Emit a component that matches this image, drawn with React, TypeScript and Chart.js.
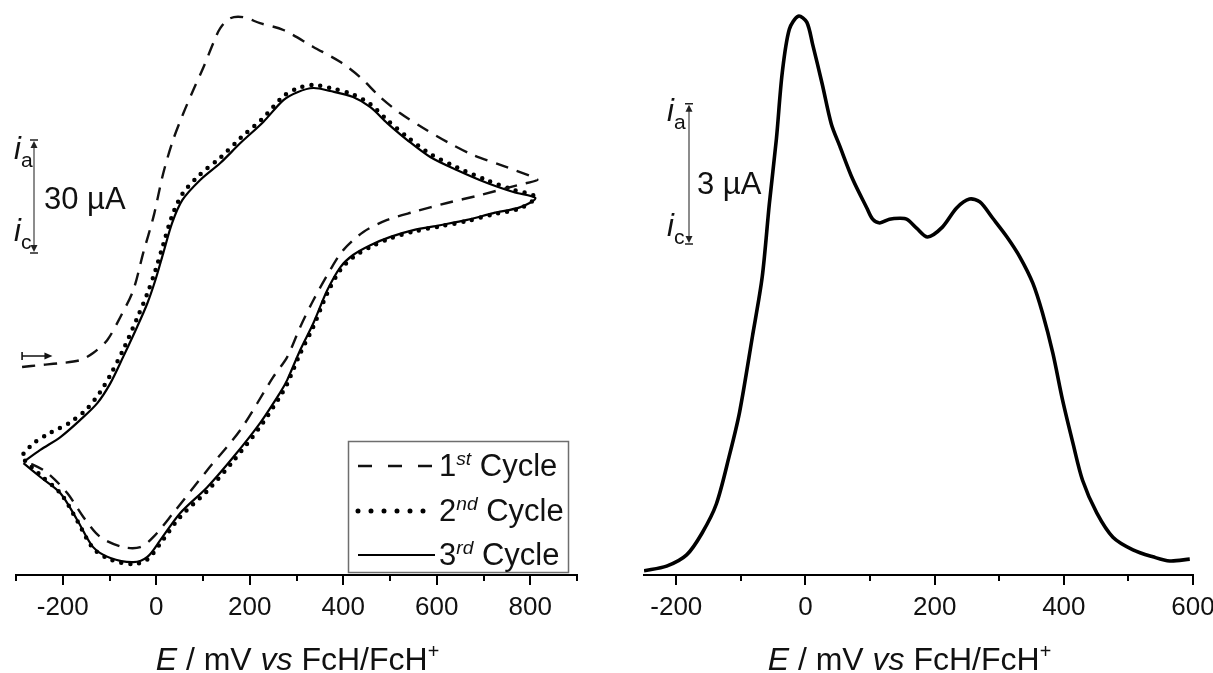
import React, { useEffect, useRef } from 'react';
import { Chart, registerables } from 'chart.js';
Chart.register(...registerables);

const FONT = '"Liberation Sans", Arial, Helvetica, sans-serif';

// ---------------- Left panel: cyclic voltammograms ----------------
// potential in mV vs FcH/FcH+, current in µA (arbitrary offset)
const cycle1E = [
  -287, -248, -205, -163, -135, -105, -77, -49, -28, -6, 15, 36, 58, 79, 101, 122, 137, 158, 186, 222, 272, 336,
  394, 436, 479, 522, 571, 622, 678, 736, 806, 815,
  772, 693, 622, 550, 494, 443, 400, 372, 336, 308, 280, 250, 180, 109, 36, -6, -34, -71, -120, -156, -190,
  -233, -263, -280,
];
const cycle1I = [
  -0.5, 0, 0.5, 1.3, 3.2, 6.6, 12.7, 19.9, 29.7, 39.3, 50.9, 59.7, 66.8, 72.9, 79.0, 85.4, 89.4, 92.0, 92.3, 90.7,
  88.9, 84.4, 80.4, 76.4, 71.1, 66.8, 62.9, 59.2, 55.7, 53.1, 49.9, 49.1,
  47.7, 45.1, 43.0, 40.6, 38.5, 35.3, 30.5, 25.2, 17.2, 10.1, 2.1, -3.2, -17.2, -27.9, -39.3, -45.6, -48.3, -48.3,
  -45.6, -40.3, -34.0, -28.6, -26.5, -26.0,
];
const cycle2E = [
  -284, -263, -227, -184, -148, -120, -98, -71, -41, -19, -2, 15, 34, 56, 94, 137, 180, 229, 272, 302, 336, 372,
  421, 458, 494, 537, 586, 644, 708, 764, 811,
  779, 721, 665, 607, 550, 501, 458, 421, 394, 366, 336, 308, 280, 265, 222, 165, 109, 51, 9, -19, -49, -98,
  -135, -169, -205, -248, -284,
];
const cycle2I = [
  -23.5, -20.8, -18.0, -15.2, -11.6, -7.2, -2.6, 4.0, 12.4, 19.0, 25.0, 32.0, 39.6, 45.4, 50.6, 55.0, 60.2, 65.6,
  71.3, 73.4, 74.3, 73.5, 71.8, 69.2, 65.0, 60.5, 56.0, 52.4, 49.0, 46.5, 44.6,
  41.6, 40.0, 38.2, 36.8, 35.4, 33.6, 31.3, 28.6, 25.3, 19.1, 10.2, 3.1, -5.0, -8.3, -16.4, -25.4, -33.4, -40.3,
  -47.3, -51.6, -52.8, -51.6, -48.6, -41.3, -34.0, -29.2, -25.0,
];
const cycle3E = [
  -284, -248, -205, -163, -126, -98, -71, -41, -19, -2, 15, 34, 56, 94, 137, 180, 229, 272, 302, 336, 372, 421,
  458, 494, 537, 586, 644, 708, 764, 811,
  779, 721, 665, 607, 550, 501, 458, 421, 394, 366, 336, 308, 280, 265, 222, 165, 109, 51, 9, -19, -49, -98,
  -135, -169, -205, -248, -284,
];
const cycle3I = [
  -25.7, -22.5, -19.1, -14.6, -10.1, -4.8, 2.1, 10.1, 16.4, 22.5, 29.7, 37.7, 43.8, 49.1, 53.6, 58.9, 64.5, 70.3,
  72.4, 73.5, 72.7, 71.1, 68.4, 64.2, 59.7, 55.2, 51.7, 48.3, 45.9, 44.3,
  41.9, 40.3, 38.5, 37.1, 35.8, 34.0, 31.8, 29.2, 26.0, 19.9, 11.1, 4.0, -4.0, -7.3, -15.4, -24.4, -32.4, -39.3,
  -46.4, -50.9, -52.3, -51.2, -48.3, -41.1, -34.0, -29.7, -26.0,
];
const cvXMin = -300;
const cvXMax = 900;
const cvYMin = -55.7;
const cvYMax = 94.2;
const cvLegendNumbers = ['1', '2', '3'];
const cvLegendSups = ['st', 'nd', 'rd'];
const cvLegendWord = 'Cycle';
const cvScaleBarE = -262;
const cvScaleBarI = [29.7, 59.7];
const cvScaleBarLabel = '30 µA';
const cvStartArrowE = [-287, -222];
const cvStartArrowI = 2.4;

// ---------------- Right panel: differential pulse voltammogram ----------------
const dpvE = [
  -250, -215, -184, -160, -138, -118, -102, -82, -67, -56, -45, -36, -25, -11, 2, 11, 26, 40, 53, 73, 95, 104, 115,
  130, 146, 157, 172, 189, 212, 234, 254, 270, 290, 312, 332, 352, 367, 383, 398, 414, 429, 451, 476, 507, 538,
  564, 595,
];
const dpvI = [
  0.09, 0.19, 0.43, 0.9, 1.52, 2.55, 3.49, 5.12, 6.38, 7.94, 9.34, 10.75, 11.69, 11.97, 11.84, 11.37, 10.51, 9.66,
  9.19, 8.48, 7.86, 7.62, 7.54, 7.62, 7.64, 7.62, 7.43, 7.24, 7.45, 7.86, 8.05, 7.99, 7.64, 7.24, 6.81, 6.25, 5.61,
  4.75, 3.75, 2.83, 2.03, 1.33, 0.81, 0.54, 0.39, 0.3, 0.34,
];
const dpvXMin = -250;
const dpvXMax = 600;
const dpvYMin = 0;
const dpvYMax = 12.1;
const dpvScaleBarE = -181;
const dpvScaleBarI = [7.09, 10.09];
const dpvScaleBarLabel = '3 µA';

const MAJOR_STEP = 200;
const MINOR_STEP = 100;

const zip = (xs: number[], ys: number[]) => xs.map((x, i) => ({ x, y: ys[i] }));

type Seg = { text: string; italic?: boolean; sup?: boolean; sub?: boolean };

function drawRich(ctx: CanvasRenderingContext2D, segs: Seg[], x: number, y: number, size: number, align: 'left' | 'center' = 'left') {
  const parts = segs.map((s) => {
    const sz = s.sup ? size * 0.62 : s.sub ? size * 0.68 : size;
    const font = `${s.italic ? 'italic ' : ''}${sz}px ${FONT}`;
    ctx.font = font;
    return { text: s.text, font, w: ctx.measureText(s.text).width, dy: s.sup ? -size * 0.36 : s.sub ? size * 0.26 : 0 };
  });
  const total = parts.reduce((a, p) => a + p.w, 0);
  let cx = align === 'center' ? x - total / 2 : x;
  ctx.textAlign = 'left';
  ctx.textBaseline = 'alphabetic';
  for (const p of parts) {
    ctx.font = p.font;
    ctx.fillText(p.text, cx, y + p.dy);
    cx += p.w;
  }
}

const tickPlugin = {
  id: 'minorMajorTicks',
  afterDraw(chart: any) {
    const s = chart.scales.x;
    const ctx = chart.ctx as CanvasRenderingContext2D;
    ctx.save();
    ctx.strokeStyle = '#000';
    ctx.lineWidth = 2;
    for (const t of s.ticks) {
      const v = t.value;
      if (Math.abs(v % MINOR_STEP) > 1e-6) continue;
      const len = Math.abs(v % MAJOR_STEP) < 1e-6 ? 10 : 6;
      const px = Math.round(s.getPixelForValue(v));
      ctx.beginPath();
      ctx.moveTo(px, s.top);
      ctx.lineTo(px, s.top + len);
      ctx.stroke();
    }
    ctx.restore();
  },
};

function drawAxisTitle(ctx: CanvasRenderingContext2D, s: any, centerValue: number) {
  ctx.save();
  ctx.fillStyle = '#111';
  drawRich(
    ctx,
    [{ text: 'E', italic: true }, { text: ' / mV ' }, { text: 'vs', italic: true }, { text: ' FcH/FcH' }, { text: '+', sup: true }],
    s.getPixelForValue(centerValue),
    s.top + 95,
    32,
    'center'
  );
  ctx.restore();
}

function drawScaleBar(
  ctx: CanvasRenderingContext2D,
  x: number,
  yTop: number,
  yBot: number,
  label: string,
  o: { iDx: number; aDy: number; cDy: number; labelDx: number; labelDy: number }
) {
  ctx.save();
  ctx.strokeStyle = '#8c8c8c';
  ctx.lineWidth = 2;
  ctx.beginPath();
  ctx.moveTo(x, yTop + 3);
  ctx.lineTo(x, yBot - 3);
  ctx.stroke();
  ctx.strokeStyle = '#222';
  ctx.fillStyle = '#222';
  ctx.lineWidth = 1.5;
  ctx.beginPath();
  ctx.moveTo(x - 4, yTop);
  ctx.lineTo(x + 4, yTop);
  ctx.moveTo(x - 4, yBot);
  ctx.lineTo(x + 4, yBot);
  ctx.stroke();
  ctx.beginPath();
  ctx.moveTo(x, yTop + 1);
  ctx.lineTo(x - 3.5, yTop + 8);
  ctx.lineTo(x + 3.5, yTop + 8);
  ctx.closePath();
  ctx.fill();
  ctx.beginPath();
  ctx.moveTo(x, yBot - 1);
  ctx.lineTo(x - 3.5, yBot - 8);
  ctx.lineTo(x + 3.5, yBot - 8);
  ctx.closePath();
  ctx.fill();
  ctx.fillStyle = '#111';
  drawRich(ctx, [{ text: 'i', italic: true }, { text: 'a', sub: true }], x - o.iDx, yTop + o.aDy, 31);
  drawRich(ctx, [{ text: 'i', italic: true }, { text: 'c', sub: true }], x - o.iDx, yBot - o.cDy, 31);
  drawRich(ctx, [{ text: label }], x + o.labelDx, (yTop + yBot) / 2 + o.labelDy, 31);
  ctx.restore();
}

const cvDeco = {
  id: 'cvDeco',
  afterDraw(chart: any) {
    const ctx = chart.ctx as CanvasRenderingContext2D;
    const xs = chart.scales.x;
    const ys = chart.scales.y;
    const area = chart.chartArea;
    drawAxisTitle(ctx, xs, 302);
    drawScaleBar(
      ctx,
      Math.round(xs.getPixelForValue(cvScaleBarE)),
      ys.getPixelForValue(cvScaleBarI[1]),
      ys.getPixelForValue(cvScaleBarI[0]),
      cvScaleBarLabel,
      { iDx: 20, aDy: 19, cDy: 12, labelDx: 10, labelDy: 12 }
    );
    // start-of-scan marker
    const ax0 = xs.getPixelForValue(cvStartArrowE[0]);
    const ax1 = xs.getPixelForValue(cvStartArrowE[1]);
    const ay = ys.getPixelForValue(cvStartArrowI);
    ctx.save();
    ctx.strokeStyle = '#111';
    ctx.fillStyle = '#111';
    ctx.lineWidth = 1.6;
    ctx.beginPath();
    ctx.moveTo(ax0, ay - 4);
    ctx.lineTo(ax0, ay + 4);
    ctx.moveTo(ax0, ay);
    ctx.lineTo(ax1 - 6, ay);
    ctx.stroke();
    ctx.beginPath();
    ctx.moveTo(ax1, ay);
    ctx.lineTo(ax1 - 8, ay - 3.5);
    ctx.lineTo(ax1 - 8, ay + 3.5);
    ctx.closePath();
    ctx.fill();
    ctx.restore();
    // legend box
    const bx = area.right - 229;
    const by = area.bottom - 134;
    ctx.save();
    ctx.strokeStyle = '#6e6e6e';
    ctx.lineWidth = 1.5;
    ctx.strokeRect(bx + 0.5, by + 0.5, 220, 131);
    const rows = [25, 70, 114];
    chart.data.datasets.forEach((ds: any, i: number) => {
      const ry = by + rows[i];
      ctx.save();
      ctx.strokeStyle = ds.borderColor;
      ctx.lineWidth = i === 1 ? 5 : ds.borderWidth;
      ctx.lineCap = ds.borderCapStyle || 'butt';
      ctx.setLineDash(i === 0 ? [14, 16] : i === 1 ? [0, 13] : []);
      ctx.beginPath();
      ctx.moveTo(bx + 10, ry);
      ctx.lineTo(bx + (i === 0 ? 85 : 87), ry);
      ctx.stroke();
      ctx.restore();
      ctx.fillStyle = '#111';
      drawRich(
        ctx,
        [{ text: cvLegendNumbers[i] }, { text: cvLegendSups[i], sup: true, italic: true }, { text: ' ' + cvLegendWord }],
        bx + 91,
        ry + 10,
        31
      );
    });
    ctx.restore();
  },
};

const dpvDeco = {
  id: 'dpvDeco',
  afterDraw(chart: any) {
    const ctx = chart.ctx as CanvasRenderingContext2D;
    const xs = chart.scales.x;
    const ys = chart.scales.y;
    drawAxisTitle(ctx, xs, 161);
    drawScaleBar(
      ctx,
      Math.round(xs.getPixelForValue(dpvScaleBarE)),
      ys.getPixelForValue(dpvScaleBarI[1]),
      ys.getPixelForValue(dpvScaleBarI[0]),
      dpvScaleBarLabel,
      { iDx: 22, aDy: 17, cDy: 8, labelDx: 8, labelDy: 20 }
    );
  },
};

function xAxis(min: number, max: number) {
  return {
    type: 'linear' as const,
    min,
    max,
    grid: { display: false, drawTicks: false },
    border: { display: true, color: '#000', width: 2 },
    ticks: {
      stepSize: MINOR_STEP,
      includeBounds: false,
      padding: 17,
      color: '#111',
      maxRotation: 0,
      autoSkip: false,
      font: { size: 26, family: FONT },
      callback: (v: any) => (Math.abs(Number(v) % MAJOR_STEP) < 1e-6 ? String(v) : ''),
    },
    afterFit: (s: any) => {
      s.height = 98;
      s.paddingLeft = 0;
      s.paddingRight = 0;
    },
  };
}

function CVChart() {
  const ref = useRef<HTMLCanvasElement>(null);
  useEffect(() => {
    const chart = new Chart(ref.current!, {
      type: 'line',
      data: {
        datasets: [
          {
            label: '1st Cycle',
            data: zip(cycle1E, cycle1I),
            borderColor: '#111',
            borderWidth: 2.4,
            borderDash: [13, 9],
            pointRadius: 0,
            tension: 0.3,
            fill: false,
          },
          {
            label: '2nd Cycle',
            data: zip(cycle2E, cycle2I),
            borderColor: '#000',
            borderWidth: 4.5,
            borderDash: [0, 9],
            borderCapStyle: 'round',
            pointRadius: 0,
            tension: 0.3,
            fill: false,
          },
          {
            label: '3rd Cycle',
            data: zip(cycle3E, cycle3I),
            borderColor: '#000',
            borderWidth: 2.2,
            pointRadius: 0,
            tension: 0.3,
            fill: false,
          },
        ],
      },
      options: {
        responsive: false,
        animation: false,
        events: [],
        layout: { padding: { left: 16, right: 23, top: 10, bottom: 0 } },
        plugins: { legend: { display: false }, tooltip: { enabled: false } },
        scales: {
          x: xAxis(cvXMin, cvXMax),
          y: { type: 'linear', min: cvYMin, max: cvYMax, display: false },
        },
      } as any,
      plugins: [tickPlugin, cvDeco],
    });
    return () => chart.destroy();
  }, []);
  return <canvas ref={ref} width={600} height={673} style={{ position: 'absolute', left: 0, top: 0 }} />;
}

function DPVChart() {
  const ref = useRef<HTMLCanvasElement>(null);
  useEffect(() => {
    const chart = new Chart(ref.current!, {
      type: 'line',
      data: {
        datasets: [
          {
            label: 'DPV',
            data: zip(dpvE, dpvI),
            borderColor: '#000',
            borderWidth: 3.6,
            pointRadius: 0,
            tension: 0.3,
            fill: false,
          },
        ],
      },
      options: {
        responsive: false,
        animation: false,
        events: [],
        layout: { padding: { left: 44, right: 20, top: 10, bottom: 0 } },
        plugins: { legend: { display: false }, tooltip: { enabled: false } },
        scales: {
          x: xAxis(dpvXMin, dpvXMax),
          y: { type: 'linear', min: dpvYMin, max: dpvYMax, display: false },
        },
      } as any,
      plugins: [tickPlugin, dpvDeco],
    });
    return () => chart.destroy();
  }, []);
  return <canvas ref={ref} width={613} height={673} style={{ position: 'absolute', left: 600, top: 0 }} />;
}

export default function App() {
  return (
    <div
      style={{
        position: 'absolute',
        left: 0,
        top: 0,
        width: 1213,
        height: 673,
        background: '#fff',
        overflow: 'hidden',
      }}
    >
      <CVChart />
      <DPVChart />
    </div>
  );
}
